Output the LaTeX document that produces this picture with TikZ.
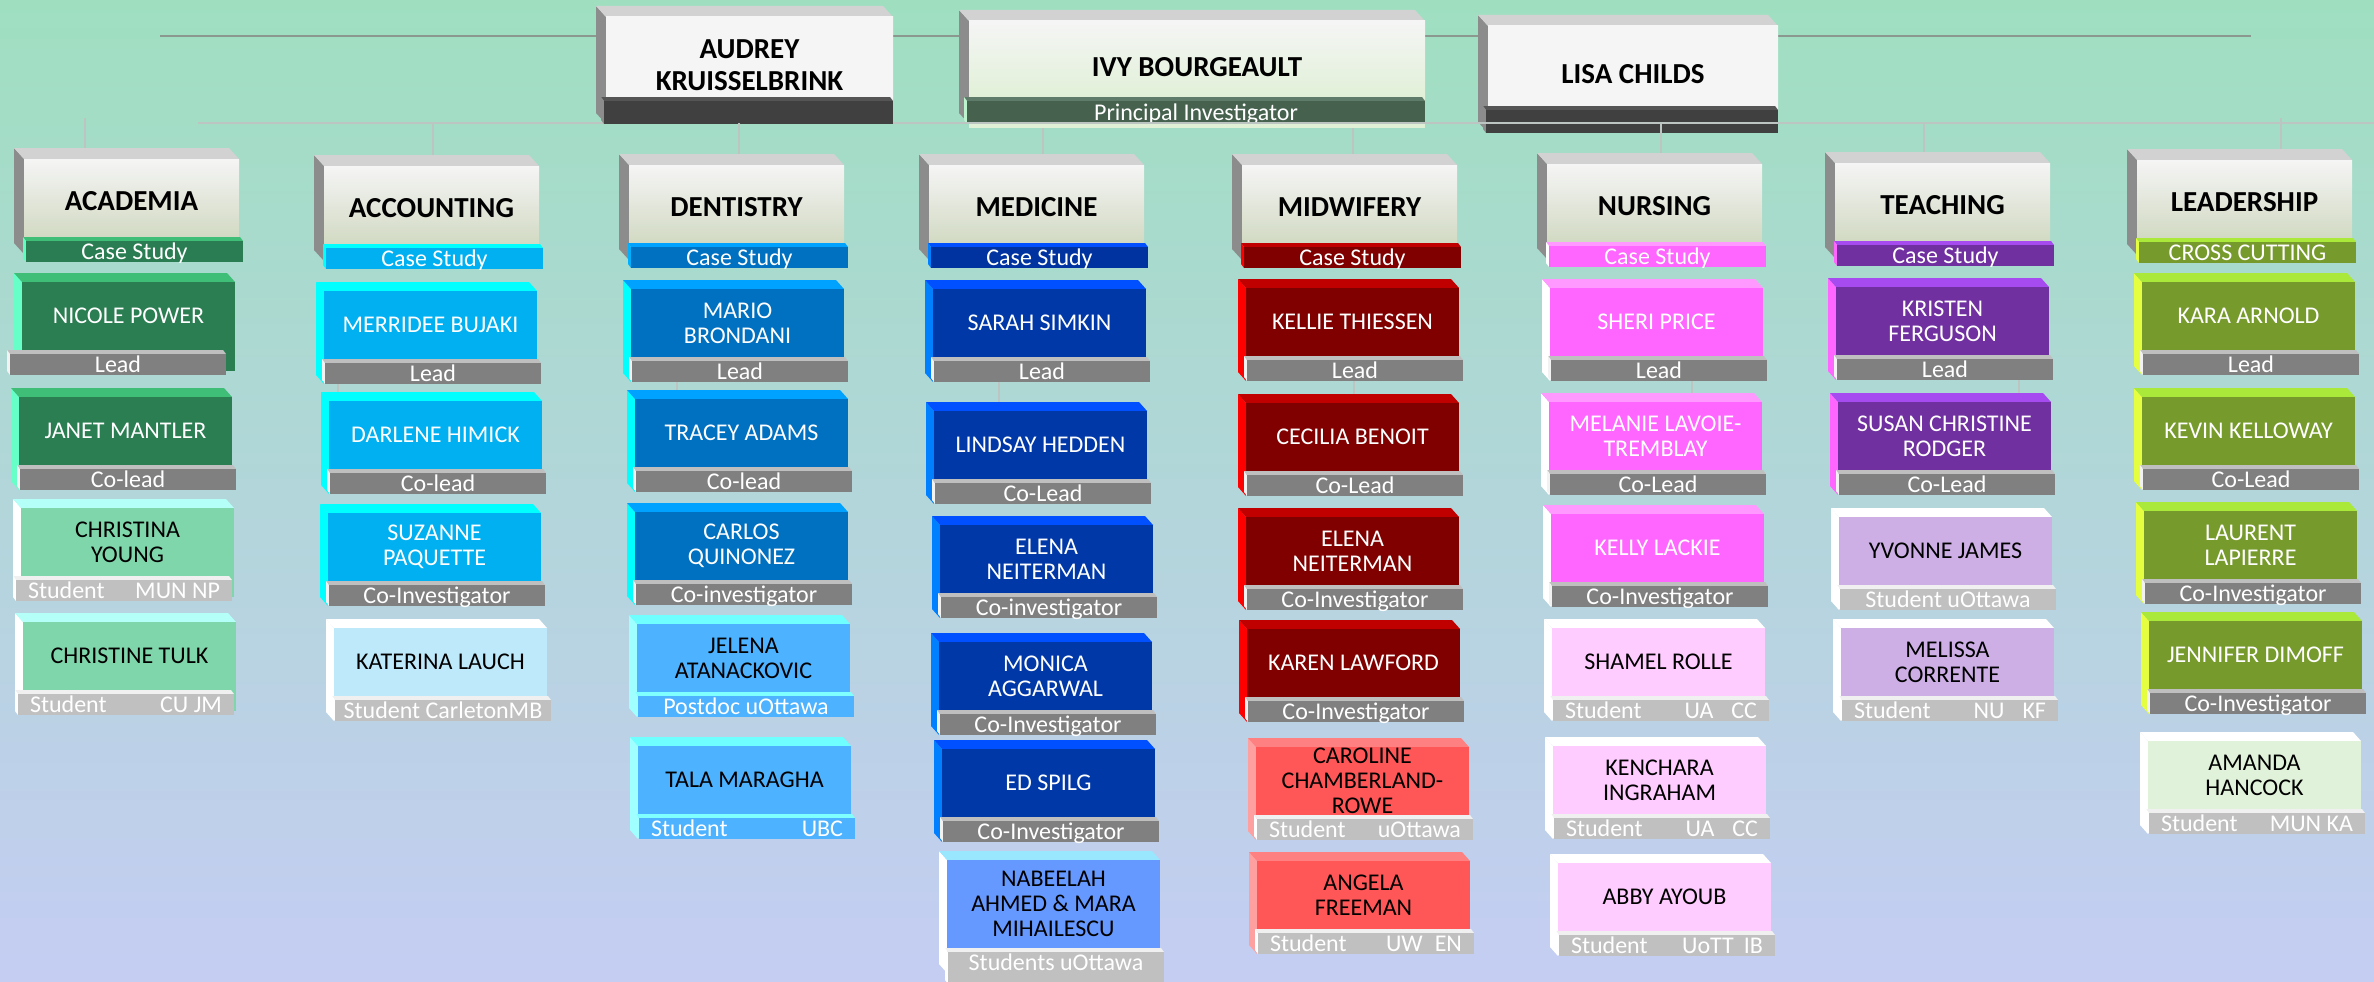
\documentclass[tikz,border=0pt]{standalone}
\usepackage{fontspec}
\setmainfont{Carlito}
\usetikzlibrary{calc}

% ---------- colour schemes ----------
\newcommand\boxscheme[5]{%
  \definecolor{#1F}{HTML}{#2}\definecolor{#1T}{HTML}{#3}\definecolor{#1L}{HTML}{#4}\colorlet{#1X}{#5}}
\newcommand\barscheme[4]{%
  \definecolor{#1}{HTML}{#2}\definecolor{#1T}{HTML}{#3}\definecolor{#1L}{HTML}{#4}}

\definecolor{bgTop}{HTML}{9FDFC0}
\definecolor{bgMid}{HTML}{AED8D6}
\definecolor{bgBot}{HTML}{C5CDF3}
\definecolor{ruleDark}{HTML}{8A9890}
\definecolor{ruleLight}{HTML}{BCC5C1}
\definecolor{catL}{HTML}{8C8C8C}
\definecolor{catT}{HTML}{D2D2D2}
\definecolor{catA}{HTML}{F5F5F5}
\definecolor{catM}{HTML}{EDEEEA}
\definecolor{catB}{HTML}{D0D8C0}
\definecolor{topDarkA}{HTML}{F5F5F5}
\definecolor{topDarkB}{HTML}{F5F5F5}
\definecolor{topGreenA}{HTML}{F5F5F5}
\definecolor{topGreenB}{HTML}{E0F0D6}

\boxscheme{acad}{2B7D52}{3FBE78}{66FFC8}{white}
\boxscheme{acadS}{80D6AB}{B4FFF8}{FFFFFF}{black}
\boxscheme{acct}{00B0F0}{00FFFF}{00FFFF}{white}
\boxscheme{acctS}{BDE9FB}{FFFFFF}{FFFFFF}{black}
\boxscheme{dent}{0070C0}{00A2FF}{00FFFF}{white}
\boxscheme{dentS}{4DB2FF}{6FFFFF}{A0FFFF}{black}
\boxscheme{med}{0038A8}{0050FF}{0080FF}{white}
\boxscheme{medS}{6699FF}{99E6FF}{FFFFFF}{black}
\boxscheme{mid}{800000}{C00000}{FF0000}{white}
\boxscheme{midS}{FF5757}{FF8080}{FFA0A0}{black}
\boxscheme{nurs}{FF66FF}{FF99FF}{FFFFFF}{white}
\boxscheme{nursS}{FFCCFF}{FFFFFF}{FFFFFF}{black}
\boxscheme{teach}{7030A0}{A54BF0}{FF66FF}{white}
\boxscheme{teachS}{CDAFE6}{FFFFFF}{FFFFFF}{black}
\boxscheme{lead}{779A2D}{AAE83A}{E5FF40}{white}
\boxscheme{leadS}{E0F2D9}{FFFFFF}{FFFFFF}{black}

\barscheme{roleGray}{808080}{BFBFBF}{F2F2F2}
\barscheme{roleLight}{C0C0C0}{F0F0F0}{FFFFFF}
\barscheme{roleBlue}{4DB2FF}{80FFFF}{A0FFFF}
\barscheme{csAcad}{2A7D52}{3FBE78}{5CFFC0}
\barscheme{csAcct}{00B0F0}{00FFFF}{00FFFF}
\barscheme{csDent}{0070C0}{00A2FF}{00B0FF}
\barscheme{csMed}{0033A0}{0050FF}{0080FF}
\barscheme{csMid}{800000}{C00000}{FF0000}
\barscheme{csNurs}{FF66FF}{FF99FF}{FFFFFF}
\barscheme{csTeach}{7030A0}{A54BF0}{FF66FF}
\barscheme{csLead}{779A2D}{AAE83A}{E5FF40}
\barscheme{topDark}{404040}{555555}{8C8C8C}
\barscheme{topGreen}{46624F}{5E7C69}{BDF2CF}

% ---------- text styles ----------
\tikzset{
  persontext/.style={align=center, inner sep=0pt, font=\fontsize{24}{25}\selectfont},
  roletext/.style={anchor=base, inner sep=0pt, text=white, font=\fontsize{24}{25}\selectfont},
  titletext/.style={align=center, inner sep=0pt, font=\fontsize{29}{32}\selectfont\bfseries},
  buslink/.style={draw=ruleLight, line width=1.4pt},
  toprule/.style={draw=ruleDark, line width=2.2pt},
  spine/.style={draw=ruleLight, line width=1.2pt},
}

\newcommand\twopart[2]{\makebox[192pt]{#1\hfill #2}}
\newcommand\barshift{0}
\newcommand\barh{21}

% role bar under a person box: id, x, y (front top-left), scheme, text
\newcommand\rolebar[5]{%
  \fill[fill=#4T] (#2,#3) -- ++(-3,-4) -- ++(216,0) -- ++(3,4) -- cycle;
  \fill[fill=#4L] (#2,#3) -- ++(-3,-4) -- ++(0,\barh) -- ++(3,4) -- cycle;
  \fill[fill=#4] (#2,#3) rectangle ++(216,\barh);
  \coordinate (#1-foot) at (#2+108,#3+\barh);
  \node[roletext] (#1-role) at (#2+108,#3+18) {#5};
}

% person box: [front height] id, x, y, box scheme, bar scheme, name, role
\newcommand\member[8][68]{%
  \fill[fill=#5L] (#3,#4) -- ++(-8,-9) -- ++(0,#1+25) -- ++(8,9) -- cycle;
  \fill[fill=#5T] (#3,#4) -- ++(-8,-9) -- ++(213,0) -- ++(8,9) -- cycle;
  \fill[fill=#5F] (#3,#4) rectangle ++(213,#1+21);
  \coordinate (#2-top) at (#3+100,#4-9);
  \node[persontext, text=#5X] (#2) at (#3+106.5,#4+#1/2) {#7};
  \rolebar{#2}{#3+1+\barshift}{#4+#1+4}{#6}{#8}%
}

% discipline box: id, x, y, bar scheme, title, bar text
\newcommand\category[6]{%
  \fill[fill=catL] (#2,#3) -- ++(-10,-11) -- ++(0,95) -- ++(10,11) -- cycle;
  \fill[fill=catT] (#2,#3) -- ++(-10,-11) -- ++(215,0) -- ++(10,11) -- cycle;
  \shade[top color=catA, middle color=catM, bottom color=catB] (#2,#3) rectangle ++(215,82);
  \coordinate (#1-top) at (#2+100,#3-11);
  \node[titletext] (#1) at (#2+107.5,#3+42) {#5};
  \fill[fill=#4T] (#2+2,#3+82) -- ++(-3,-4) -- ++(217,0) -- ++(3,4) -- cycle;
  \fill[fill=#4L] (#2+2,#3+82) -- ++(-3,-4) -- ++(0,21) -- ++(3,4) -- cycle;
  \fill[fill=#4] (#2+2,#3+82) rectangle ++(217,21);
  \node[roletext] (#1-role) at (#2+110.5,#3+100) {#6};
}

% investigator box: id, x, y, width, front height, bar scheme, name
\newcommand\topbox[7]{%
  \fill[fill=catL] (#2,#3) -- ++(-10,-11) -- ++(0,#5+27) -- ++(10,11) -- cycle;
  \fill[fill=catT] (#2,#3) -- ++(-10,-11) -- ++(#4,0) -- ++(10,11) -- cycle;
  \shade[top color=#6A, bottom color=#6B] (#2,#3) rectangle ++(#4,#5+4);
  \node[titletext] (#1) at (#2+#4/2,#3+#5/2+8) {#7};
  \fill[fill=#6T] (#2-2,#3+#5+4) -- ++(-3,-4) -- ++(#4+2,0) -- ++(3,4) -- cycle;
  \fill[fill=#6L] (#2-2,#3+#5+4) -- ++(-3,-4) -- ++(0,23) -- ++(3,4) -- cycle;
  \fill[fill=#6] (#2-2,#3+#5+4) rectangle ++(#4+2,23);
  \coordinate (#1-foot) at (#2+#4/2,#3+#5+27);
}

\begin{document}
\begin{tikzpicture}[x=1pt, y=-1pt]
  % background
  \useasboundingbox (0,0) rectangle (2374,982);
  \shade[top color=bgTop, middle color=bgMid, bottom color=bgBot] (0,0) rectangle (2374,982);

  % rules behind the investigators
  \coordinate (topL) at (160,36);
  \coordinate (topR) at (2251,36);
  \draw[toprule] (topL) -- (topR);
  \coordinate (busL) at (198,123);
  \coordinate (busM) at (606,123);
  \coordinate (busN) at (893,123);
  \coordinate (busR) at (2374,123);
  \draw[buslink] (busL) -- (busM);

  % investigators
  \topbox{audrey}{606}{17}{287}{80}{topDark}{AUDREY\\KRUISSELBRINK}
  \topbox{ivy}{969}{21}{456}{76}{topGreen}{IVY BOURGEAULT}
  \fill[fill=topGreenB] (969,124) rectangle (1425,128);
  \node[roletext] (ivy-role) at (1196,120) {Principal Investigator};
  \topbox{lisa}{1488}{26}{290}{80}{topDark}{LISA CHILDS}

  \draw[buslink] (busN) -- (busR);

  % drops to the disciplines
  \coordinate (d-acad) at (85,118);
  \coordinate (d-acct) at (433,123);
  \coordinate (d-dent) at (739,123);
  \coordinate (d-med) at (1043,128);
  \coordinate (d-mid) at (1353,128);
  \coordinate (d-nurs) at (1661,123);
  \coordinate (d-teach) at (1924,123);
  \coordinate (d-lead) at (2281,118);

  \category{academia}{24}{159}{csAcad}{ACADEMIA}{Case Study}
  \category{accounting}{324}{166}{csAcct}{ACCOUNTING}{Case Study}
  \category{dentistry}{629}{165}{csDent}{DENTISTRY}{Case Study}
  \category{medicine}{929}{165}{csMed}{MEDICINE}{Case Study}
  \category{midwifery}{1242}{165}{csMid}{MIDWIFERY}{Case Study}
  \category{nursing}{1547}{164}{csNurs}{NURSING}{Case Study}
  \category{teaching}{1835}{163}{csTeach}{TEACHING}{Case Study}
  \category{leadership}{2137}{160}{csLead}{LEADERSHIP}{CROSS CUTTING}

  \draw[buslink] (d-acad) -- (d-acad |- academia-top);
  \draw[buslink] (d-acct) -- (d-acct |- accounting-top);
  \draw[buslink] (d-dent) -- (d-dent |- dentistry-top);
  \draw[buslink] (d-med) -- (d-med |- medicine-top);
  \draw[buslink] (d-mid) -- (d-mid |- midwifery-top);
  \draw[buslink] (d-nurs) -- (d-nurs |- nursing-top);
  \draw[buslink] (d-teach) -- (d-teach |- teaching-top);
  \draw[buslink] (d-lead) -- (d-lead |- leadership-top);

  % Academia
  \renewcommand\barshift{-13}
  \member{nicole}{22}{282}{acad}{roleGray}{NICOLE POWER}{Lead}
  \renewcommand\barshift{0}
  \member{janet}{19}{397}{acad}{roleGray}{JANET MANTLER}{Co-lead}
  \renewcommand\barshift{-6}
  \member{christina}{21}{508}{acadS}{roleLight}{CHRISTINA\\YOUNG}{\twopart{Student}{MUN NP}}
  \member{christine}{23}{622}{acadS}{roleLight}{CHRISTINE TULK}{\twopart{Student}{CU JM}}
  \renewcommand\barshift{0}

  % Accounting
  \member{merridee}{324}{291}{acct}{roleGray}{MERRIDEE BUJAKI}{Lead}
  \member{darlene}{329}{401}{acct}{roleGray}{DARLENE HIMICK}{Co-lead}
  \member{suzanne}{328}{513}{acct}{roleGray}{SUZANNE\\PAQUETTE}{Co-Investigator}
  \member{katerina}{334}{628}{acctS}{roleLight}{KATERINA LAUCH}{Student CarletonMB}

  % Dentistry
  \member{mario}{631}{289}{dent}{roleGray}{MARIO\\BRONDANI}{Lead}
  \member{tracey}{635}{399}{dent}{roleGray}{TRACEY ADAMS}{Co-lead}
  \member{carlos}{635}{512}{dent}{roleGray}{CARLOS\\QUINONEZ}{Co-investigator}
  \member{jelena}{637}{624}{dentS}{roleBlue}{JELENA\\ATANACKOVIC}{Postdoc uOttawa}
  \member{tala}{638}{746}{dentS}{roleBlue}{TALA MARAGHA}{\twopart{Student}{UBC}}

  % Medicine
  \member{sarah}{933}{289}{med}{roleGray}{SARAH SIMKIN}{Lead}
  \member{lindsay}{934}{411}{med}{roleGray}{LINDSAY HEDDEN}{Co-Lead}
  \member{elenamed}{940}{525}{med}{roleGray}{ELENA\\NEITERMAN}{Co-investigator}
  \member{monica}{939}{642}{med}{roleGray}{MONICA\\AGGARWAL}{Co-Investigator}
  \member{ed}{942}{749}{med}{roleGray}{ED SPILG}{Co-Investigator}
  \renewcommand\barh{32}
  \member[88]{nabeelah}{947}{860}{medS}{roleLight}{NABEELAH\\AHMED \& MARA\\MIHAILESCU}{Students uOttawa}
  \renewcommand\barh{21}

  % Midwifery
  \member{kellie}{1246}{288}{mid}{roleGray}{KELLIE THIESSEN}{Lead}
  \member{cecilia}{1246}{403}{mid}{roleGray}{CECILIA BENOIT}{Co-Lead}
  \member{elenamid}{1246}{517}{mid}{roleGray}{ELENA\\NEITERMAN}{Co-Investigator}
  \member{karen}{1247}{629}{mid}{roleGray}{KAREN LAWFORD}{Co-Investigator}
  \member{caroline}{1256}{747}{midS}{roleLight}{CAROLINE\\CHAMBERLAND-\\ROWE}{\twopart{Student}{uOttawa}}
  \member{angela}{1257}{861}{midS}{roleLight}{ANGELA\\FREEMAN}{\twopart{Student}{UW\hspace{12pt}EN}}

  % Nursing
  \member{sheri}{1550}{288}{nurs}{roleGray}{SHERI PRICE}{Lead}
  \member{melanie}{1549}{402}{nurs}{roleGray}{MELANIE LAVOIE-\\TREMBLAY}{Co-Lead}
  \member{kelly}{1551}{514}{nurs}{roleGray}{KELLY LACKIE}{Co-Investigator}
  \member{shamel}{1552}{628}{nursS}{roleLight}{SHAMEL ROLLE}{\twopart{Student}{UA\hspace{18pt}CC}}
  \member{kenchara}{1553}{746}{nursS}{roleLight}{KENCHARA\\INGRAHAM}{\twopart{Student}{UA\hspace{18pt}CC}}
  \member{abby}{1558}{863}{nursS}{roleLight}{ABBY AYOUB}{\twopart{Student}{UoTT\hspace{10pt}IB}}

  % Teaching
  \member{kristen}{1836}{287}{teach}{roleGray}{KRISTEN\\FERGUSON}{Lead}
  \member{susan}{1838}{402}{teach}{roleGray}{SUSAN CHRISTINE\\RODGER}{Co-Lead}
  \member{yvonne}{1839}{517}{teachS}{roleLight}{YVONNE JAMES}{Student uOttawa}
  \member{melissa}{1841}{628}{teachS}{roleLight}{MELISSA\\CORRENTE}{\twopart{Student}{NU\hspace{18pt}KF}}

  % Leadership
  \member{kara}{2142}{282}{lead}{roleGray}{KARA ARNOLD}{Lead}
  \member{kevin}{2142}{397}{lead}{roleGray}{KEVIN KELLOWAY}{Co-Lead}
  \member{laurent}{2144}{511}{lead}{roleGray}{LAURENT\\LAPIERRE}{Co-Investigator}
  \member{jennifer}{2149}{621}{lead}{roleGray}{JENNIFER DIMOFF}{Co-Investigator}
  \member{amanda}{2148}{741}{leadS}{roleLight}{AMANDA\\HANCOCK}{\twopart{Student}{MUN KA}}

  % lead to co-lead links
  \coordinate (sp-acct) at (338,0);
  \coordinate (sp-dent) at (677,0);
  \coordinate (sp-med) at (999,0);
  \coordinate (sp-mid) at (1354,0);
  \coordinate (sp-nurs) at (1692,0);
  \coordinate (sp-teach) at (2019,0);
  \draw[spine] (sp-acct |- merridee-foot) -- (sp-acct |- darlene-top);
  \draw[spine] (sp-dent |- mario-foot) -- (sp-dent |- tracey-top);
  \draw[spine] (sp-med |- sarah-foot) -- (sp-med |- lindsay-top);
  \draw[spine] (sp-mid |- kellie-foot) -- (sp-mid |- cecilia-top);
  \draw[spine] (sp-nurs |- sheri-foot) -- (sp-nurs |- melanie-top);
  \draw[spine] (sp-teach |- kristen-foot) -- (sp-teach |- susan-top);
\end{tikzpicture}
\end{document}
